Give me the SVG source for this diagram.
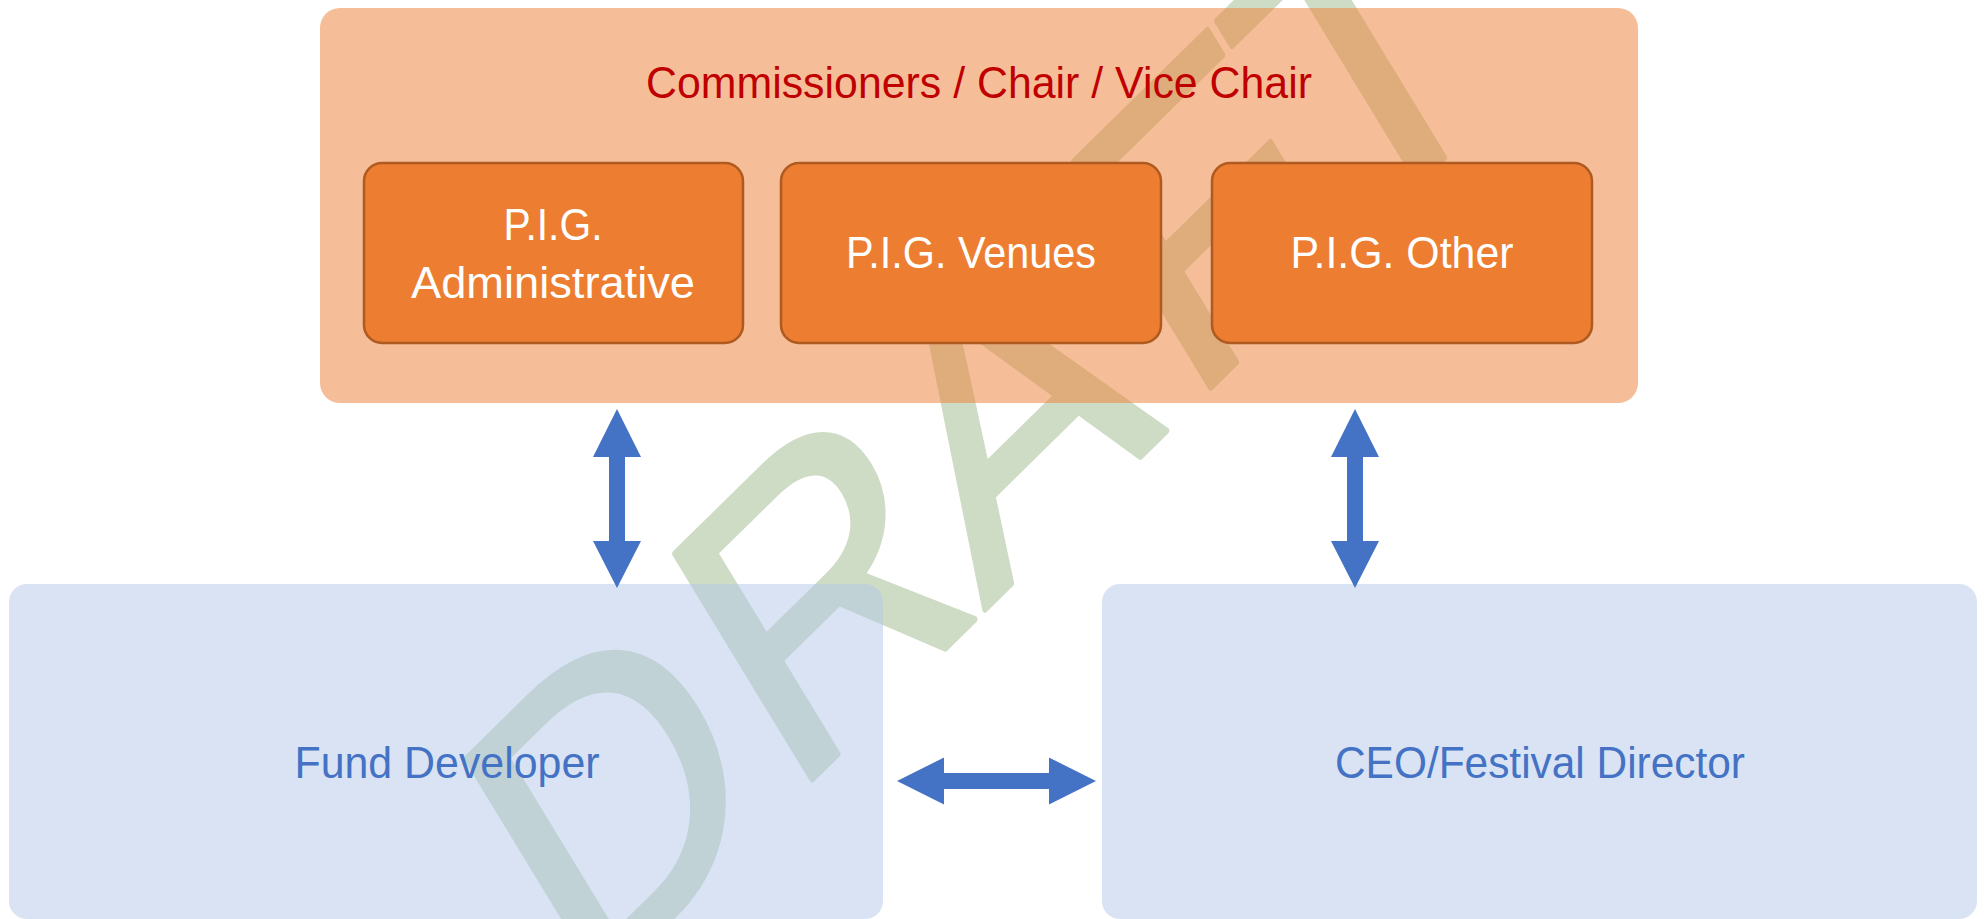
<svg xmlns="http://www.w3.org/2000/svg" width="1986" height="919" viewBox="0 0 1986 919">
  <style>
    .lbl { font-family: "Liberation Sans", Arial, sans-serif; font-size: 44px; text-anchor: middle; }
    .outer { fill: #ED7D31; fill-opacity: 0.5; }
    .pig { fill: #ED7D31; stroke: #AE5A21; stroke-width: 2.5; }
    .blue { fill: #B4C7E7; fill-opacity: 0.5; }
    .white { fill: #FFFFFF; }
    .red { fill: #C00000; }
    .bluetxt { fill: #4472C4; }
    .arrow { fill: #4472C4; }
    .wm { font-family: "Liberation Sans", Arial, sans-serif; font-size: 384px; fill: #CEDCC5; stroke: #CEDCC5; stroke-width: 6; stroke-linejoin: round; }
  </style>
  <rect x="0" y="0" width="1986" height="919" fill="#FFFFFF"/>

  <g id="watermark">
    <text class="wm" transform="matrix(0.713 -0.701 0.520 0.854 603 985)" x="-30 262 535 821 1045" y="0">DRAFT</text>
  </g>

  <g id="commissioners">
    <rect class="outer" x="320" y="8" width="1318" height="395" rx="20" ry="20"/>
    <text class="lbl red" x="979" y="98" textLength="666" lengthAdjust="spacingAndGlyphs">Commissioners / Chair / Vice Chair</text>
  </g>

  <g id="pig-administrative">
    <rect class="pig" x="364" y="163" width="379" height="180" rx="18" ry="18"/>
    <text class="lbl white" x="553" y="240" textLength="99" lengthAdjust="spacingAndGlyphs">P.I.G.</text>
    <text class="lbl white" x="553" y="298" textLength="284" lengthAdjust="spacingAndGlyphs">Administrative</text>
  </g>

  <g id="pig-venues">
    <rect class="pig" x="781" y="163" width="380" height="180" rx="18" ry="18"/>
    <text class="lbl white" x="971" y="268" textLength="250" lengthAdjust="spacingAndGlyphs">P.I.G. Venues</text>
  </g>

  <g id="pig-other">
    <rect class="pig" x="1212" y="163" width="380" height="180" rx="18" ry="18"/>
    <text class="lbl white" x="1402" y="268" textLength="223" lengthAdjust="spacingAndGlyphs">P.I.G. Other</text>
  </g>

  <g id="fund-developer">
    <rect class="blue" x="9" y="584" width="874" height="335" rx="18" ry="18"/>
    <text class="lbl bluetxt" x="447" y="778" textLength="305" lengthAdjust="spacingAndGlyphs">Fund Developer</text>
  </g>

  <g id="ceo">
    <rect class="blue" x="1102" y="584" width="875" height="335" rx="18" ry="18"/>
    <text class="lbl bluetxt" x="1540" y="778" textLength="410" lengthAdjust="spacingAndGlyphs">CEO/Festival Director</text>
  </g>

  <g id="connectors">
    <path class="arrow" d="M617,409 L641,457 L625,457 L625,541 L641,541 L617,588 L593,541 L609,541 L609,457 L593,457 Z"/>
    <path class="arrow" d="M1355,409 L1379,457 L1363,457 L1363,541 L1379,541 L1355,588 L1331,541 L1347,541 L1347,457 L1331,457 Z"/>
    <path class="arrow" d="M897,781 L944,757.5 L944,773 L1049,773 L1049,757.5 L1096,781 L1049,804.5 L1049,789 L944,789 L944,804.5 Z"/>
  </g>
</svg>
